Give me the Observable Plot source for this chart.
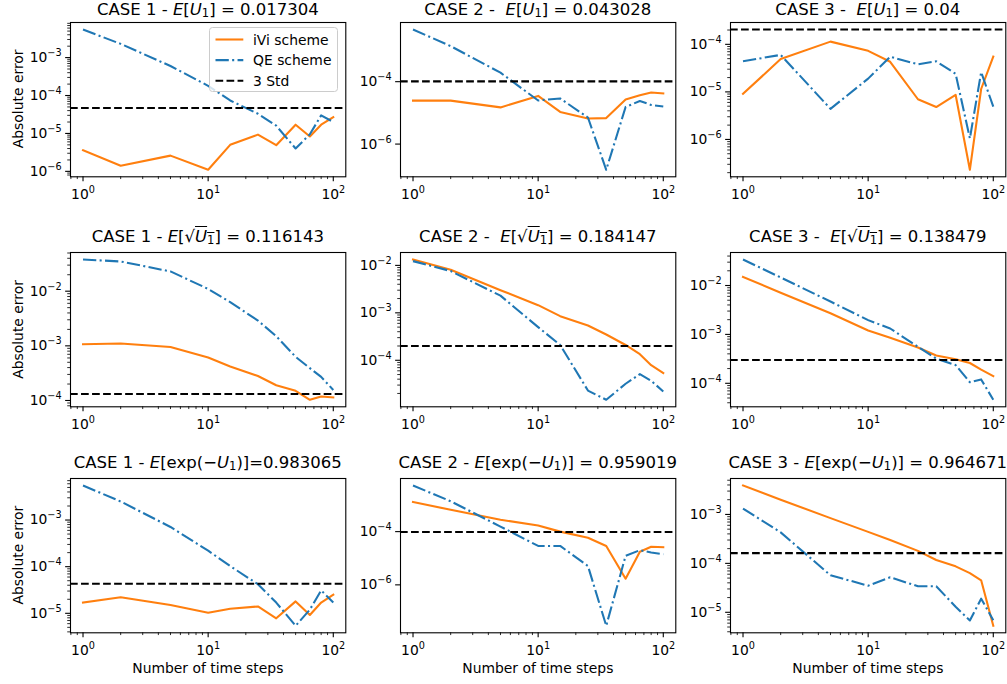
<!DOCTYPE html>
<html>
<head>
<meta charset="utf-8">
<script src="https://cdn.jsdelivr.net/npm/d3@7"></script>
<script src="https://cdn.jsdelivr.net/npm/@observablehq/plot@0.6"></script>
<style>
  body { margin: 0; background: #fff; }
  #root { position: relative; width: 1007px; height: 684px; overflow: hidden; font-family: "DejaVu Sans"; background: #fff; }
  .title { position: absolute; text-align: center; font-size: 16.5px; font-weight: normal; line-height: 14px; height: 16px; white-space: pre; color: #000; }
  .title i { font-style: italic; }
  .title sub { font-size: 0.7em; vertical-align: -0.2em; line-height: 0; }
  .ov { text-decoration: overline; text-decoration-thickness: 1px; }
</style>
</head>
<body>
<div id="root"></div>
<script>
// ---- data ----
const xSteps = [1, 2, 5, 10, 15, 25, 35, 50, 65, 80, 100];

// E[U1]  (case 1, case 2, case 3)
const iviEU = [
  [3.6e-6, 1.4e-6, 2.6e-6, 1.1e-6, 5.0e-6, 9.3e-6, 4.9e-6, 1.7e-5, 8.3e-6, 1.7e-5, 2.7e-5],
  [2.47e-5, 2.47e-5, 1.5e-5, 3.5e-5, 1.07e-5, 6.6e-6, 6.8e-6, 2.7e-5, 3.7e-5, 4.5e-5, 4.2e-5],
  [9.1e-6, 4.9e-5, 1.14e-4, 7.3e-5, 4.3e-5, 7.0e-6, 4.8e-6, 8.7e-6, 2.3e-7, 1.15e-5, 5.5e-5]
];
const qeEU = [
  [5.5e-3, 2.3e-3, 6.0e-4, 1.8e-4, 7.4e-5, 3.3e-5, 1.6e-5, 4.0e-6, 9.5e-6, 3.0e-5, 2.0e-5],
  [4.7e-3, 1.38e-3, 1.94e-4, 2.5e-5, 2.9e-5, 7.1e-6, 1.5e-7, 1.55e-5, 2.4e-5, 1.8e-5, 1.6e-5],
  [4.4e-5, 6.0e-5, 4.4e-6, 1.9e-5, 5.5e-5, 3.8e-5, 4.4e-5, 2.4e-5, 1.05e-6, 2.6e-5, 4.9e-6]
];
const stdEU = [4.7e-5, 1.02e-4, 2.05e-4];

// E[sqrt(U1)]
const iviSqrt = [
  [1.07e-3, 1.1e-3, 9.5e-4, 6.1e-4, 4.2e-4, 2.8e-4, 1.9e-4, 1.5e-4, 1.03e-4, 1.18e-4, 1.14e-4],
  [1.33e-2, 8.1e-3, 3.0e-3, 1.45e-3, 8.5e-4, 5.4e-4, 3.5e-4, 2.1e-4, 1.34e-4, 7.9e-5, 5.4e-5],
  [1.5e-2, 7.1e-3, 2.7e-3, 1.2e-3, 8.5e-4, 5.4e-4, 3.7e-4, 3.1e-4, 2.6e-4, 1.9e-4, 1.4e-4]
];
const qeSqrt = [
  [3.8e-2, 3.5e-2, 2.3e-2, 1.1e-2, 6.3e-3, 2.9e-3, 1.5e-3, 6.3e-4, 3.9e-4, 2.7e-4, 1.56e-4],
  [1.23e-2, 7.6e-3, 2.3e-3, 5.0e-4, 2.1e-4, 2.3e-5, 1.47e-5, 3.2e-5, 5.1e-5, 3.7e-5, 2.2e-5],
  [3.4e-2, 1.46e-2, 4.7e-3, 1.96e-3, 1.32e-3, 5.6e-4, 3.2e-4, 2.36e-4, 1.05e-4, 1.2e-4, 4.6e-5]
];
const stdSqrt = [1.31e-4, 2.0e-4, 3.0e-4];

// E[exp(-U1)]
const iviExp = [
  [1.7e-5, 2.2e-5, 1.5e-5, 1.03e-5, 1.25e-5, 1.4e-5, 7.8e-6, 1.8e-5, 9.2e-6, 1.7e-5, 2.5e-5],
  [1.3e-3, 6.6e-4, 2.8e-4, 1.7e-4, 1.0e-4, 5.9e-5, 2.9e-5, 1.7e-6, 1.75e-5, 2.7e-5, 2.6e-5],
  [3.9e-3, 2.0e-3, 8.4e-4, 4.4e-4, 3.0e-4, 1.8e-4, 1.17e-4, 8.7e-5, 6.3e-5, 4.5e-5, 5.3e-6]
];
const qeExp = [
  [5.5e-3, 2.5e-3, 7.1e-4, 2.2e-4, 1.03e-4, 4.2e-5, 1.7e-5, 5.4e-6, 1.2e-5, 3.1e-5, 1.7e-5],
  [5.4e-3, 1.38e-3, 1.55e-4, 2.9e-5, 2.9e-5, 5.1e-6, 2.9e-8, 1.23e-5, 2.0e-5, 1.65e-5, 1.42e-5],
  [1.32e-3, 4.3e-4, 5.7e-5, 3.5e-5, 5.2e-5, 3.4e-5, 3.4e-5, 1.3e-5, 6.8e-6, 1.9e-5, 6.9e-6]
];
const stdExp = [4.3e-5, 9.7e-5, 1.62e-4];

const iviRows = [iviEU, iviSqrt, iviExp];
const qeRows = [qeEU, qeSqrt, qeExp];
const stdRows = [stdEU, stdSqrt, stdExp];

// tick labels (exponents of 10)
const xTickExp = [0, 1, 2];
const yTickExp = [
  [[-6, -5, -4, -3], [-6, -4], [-6, -5, -4]],
  [[-4, -3, -2], [-4, -3, -2], [-4, -3, -2]],
  [[-5, -4, -3], [-6, -4], [-5, -4, -3]]
];
const yMinorOn = [[true, false, true], [true, true, true], [true, false, true]];

const titles = [
  ['CASE 1 - <i>E</i>[<i>U</i><sub>1</sub>] = 0.017304',
   'CASE 2 -  <i>E</i>[<i>U</i><sub>1</sub>] = 0.043028',
   'CASE 3 -  <i>E</i>[<i>U</i><sub>1</sub>] = 0.04'],
  ['CASE 1 - <i>E</i>[√<span class="ov"><i>U</i><sub>1</sub></span>] = 0.116143',
   'CASE 2 -  <i>E</i>[√<span class="ov"><i>U</i><sub>1</sub></span>] = 0.184147',
   'CASE 3 -  <i>E</i>[√<span class="ov"><i>U</i><sub>1</sub></span>] = 0.138479'],
  ['CASE 1 - <i>E</i>[exp(−<i>U</i><sub>1</sub>)]=0.983065',
   'CASE 2 - <i>E</i>[exp(−<i>U</i><sub>1</sub>)] = 0.959019',
   'CASE 3 - <i>E</i>[exp(−<i>U</i><sub>1</sub>)] = 0.964671']
];
const seriesNames = ["iVi scheme", "QE scheme", "3 Std"];
const yLabel = "Absolute error";
const xLabel = "Number of time steps";

// ---- layout ----
const ORANGE = "#ff7f0e", BLUE = "#1f77b4";
const colLeft = [70.2, 400.2, 730.2];
const rowTop = [21.7, 252.3, 478];
const FW = 275.3, FH = 154.3;
const mL = 62, mR = 8, mT = 8, mB = 32;
const LW = 2.08;
const DASHDOT = "13.3 3.33 2.08 3.33";
const DASHED = "7.7 3.33";

const root = document.getElementById("root");
const xDomain = [Math.pow(10, -0.1), Math.pow(10, 2.1)];
const xMajor = xTickExp.map(e => Math.pow(10, e));
const xMinor = [];
for (let e = -1; e <= 2; e++) for (let k = 2; k <= 9; k++) {
  const v = k * Math.pow(10, e);
  if (v >= xDomain[0] && v <= xDomain[1]) xMinor.push(v);
}
const fmt = d => "10^" + Math.round(Math.log10(d));

function superscriptify(svg) {
  svg.querySelectorAll("text").forEach(t => {
    const m = /^10\^(-?\d+)$/.exec(t.textContent);
    if (!m) return;
    t.textContent = "";
    const a = document.createElementNS("http://www.w3.org/2000/svg", "tspan");
    a.textContent = "10";
    const b = document.createElementNS("http://www.w3.org/2000/svg", "tspan");
    b.textContent = m[1].replace("-", "\u2212");
    b.setAttribute("font-size", "9.7px");
    b.setAttribute("dy", "-6px");
    t.appendChild(a); t.appendChild(b);
  });
}

for (let r = 0; r < 3; r++) {
  for (let c = 0; c < 3; c++) {
    const ivi = iviRows[r][c], qe = qeRows[r][c], std = stdRows[r][c];
    const vals = [...ivi, ...qe, std];
    const lo = Math.log10(d3.min(vals)), hi = Math.log10(d3.max(vals));
    const pad = 0.05 * (hi - lo);
    const yDomain = [Math.pow(10, lo - pad), Math.pow(10, hi + pad)];
    const yMajor = yTickExp[r][c].map(e => Math.pow(10, e));
    const yMinor = [];
    if (yMinorOn[r][c]) {
      for (let e = Math.floor(lo - pad); e <= Math.ceil(hi + pad); e++) for (let k = 2; k <= 9; k++) {
        const v = k * Math.pow(10, e);
        if (v >= yDomain[0] && v <= yDomain[1]) yMinor.push(v);
      }
    }
    const svg = Plot.plot({
      width: FW + mL + mR,
      height: FH + mT + mB,
      marginLeft: mL, marginRight: mR, marginTop: mT, marginBottom: mB,
      style: { fontFamily: "DejaVu Sans", fontSize: "13.9px", background: "transparent", color: "black", overflow: "visible" },
      x: { type: "log", domain: xDomain },
      y: { type: "log", domain: yDomain },
      marks: [
        Plot.line(xSteps, { x: d => d, y: (d, j) => ivi[j], stroke: ORANGE, strokeWidth: LW, strokeLinejoin: "round", strokeLinecap: "square" }),
        Plot.line(xSteps, { x: d => d, y: (d, j) => qe[j], stroke: BLUE, strokeWidth: LW, strokeDasharray: DASHDOT, strokeLinejoin: "round", strokeLinecap: "butt" }),
        Plot.ruleY([std], { stroke: "black", strokeWidth: LW, strokeDasharray: DASHED }),
        Plot.frame({ stroke: "black", strokeWidth: 1.1 }),
        Plot.axisX(xMajor, { tickSize: 4.86, tickPadding: 7, strokeWidth: 1.1, tickFormat: fmt, label: null, fill: "black" }),
        Plot.axisX(xMinor, { tickSize: 2.78, strokeWidth: 0.83, tickFormat: () => "", label: null }),
        Plot.axisY(yMajor, { tickSize: 4.86, tickPadding: 4, strokeWidth: 1.1, tickFormat: fmt, label: null, fill: "black" }),
        Plot.axisY(yMinor, { tickSize: 2.78, strokeWidth: 0.83, tickFormat: () => "", label: null })
      ]
    });
    superscriptify(svg);
    svg.style.position = "absolute";
    svg.style.left = (colLeft[c] - mL) + "px";
    svg.style.top = (rowTop[r] - mT) + "px";
    svg.style.maxWidth = "none";
    root.appendChild(svg);

    const t = document.createElement("div");
    t.className = "title";
    t.innerHTML = titles[r][c];
    t.style.left = (colLeft[c] - 60) + "px";
    t.style.width = (FW + 120) + "px";
    t.style.top = Math.max(2.7, rowTop[r] - 9.2 - 12.7) + "px";
    root.appendChild(t);
  }
}

// overlay: axis labels and legend
const ov = d3.select(root).append("svg")
  .attr("width", 1007).attr("height", 684)
  .style("position", "absolute").style("left", "0px").style("top", "0px")
  .attr("font-family", "DejaVu Sans").attr("font-size", "13.9px");

rowTop.forEach(rt => {
  ov.append("text")
    .attr("transform", `translate(22.7,${rt + FH / 2}) rotate(-90)`)
    .attr("text-anchor", "middle")
    .text(yLabel);
});
colLeft.forEach(cl => {
  ov.append("text")
    .attr("x", cl + FW / 2).attr("y", 672.5)
    .attr("text-anchor", "middle")
    .text(xLabel);
});

const lg = ov.append("g");
lg.append("rect").attr("x", 209.5).attr("y", 27.5).attr("width", 128).attr("height", 64)
  .attr("rx", 3).attr("fill", "white").attr("fill-opacity", 0.8).attr("stroke", "#cccccc").attr("stroke-width", 1);
const styles = [
  { stroke: ORANGE, dash: null },
  { stroke: BLUE, dash: DASHDOT },
  { stroke: "black", dash: DASHED }
];
seriesNames.forEach((name, i) => {
  const y = 39.5 + i * 20.6;
  const ln = lg.append("line").attr("x1", 215.5).attr("x2", 243.3).attr("y1", y).attr("y2", y)
    .attr("stroke", styles[i].stroke).attr("stroke-width", LW);
  if (styles[i].dash) ln.attr("stroke-dasharray", styles[i].dash);
  lg.append("text").attr("x", 253).attr("y", y).attr("dy", "0.36em").text(name);
});
</script>
</body>
</html>
